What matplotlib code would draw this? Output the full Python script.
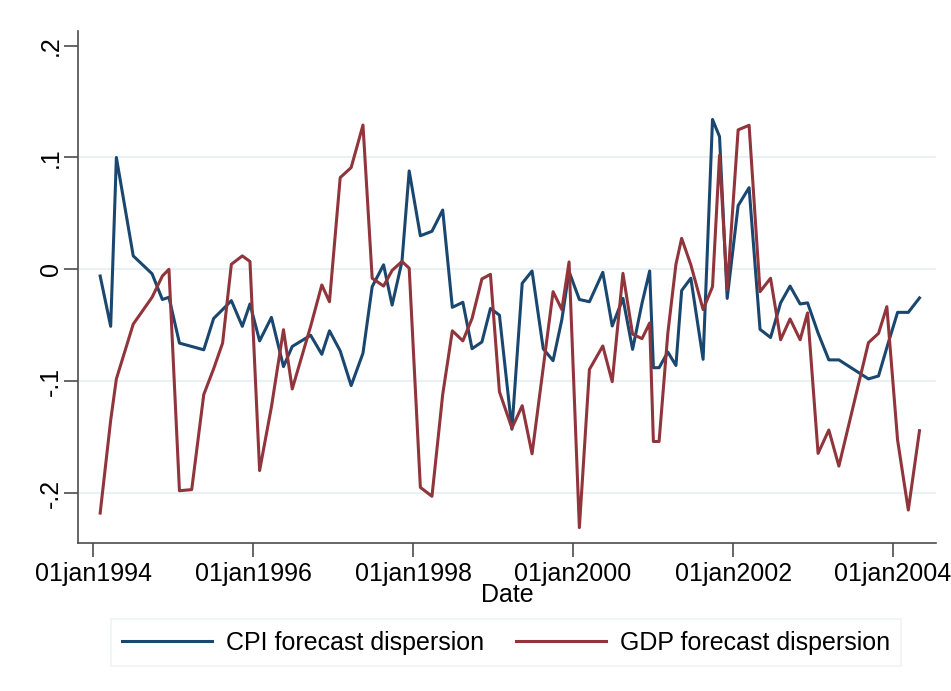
import matplotlib
matplotlib.use("Agg")
import matplotlib.pyplot as plt
import matplotlib.dates as mdates
import pandas as pd

# survey dates
dates = [
    "1994-02-02", "1994-03-22", "1994-04-17", "1994-07-03", "1994-09-27", "1994-11-13",
    "1994-12-13", "1995-01-30", "1995-03-27", "1995-05-21", "1995-07-05", "1995-08-15",
    "1995-09-24", "1995-11-13", "1995-12-18", "1996-01-31", "1996-03-25", "1996-05-19",
    "1996-06-28", "1996-09-20", "1996-11-10", "1996-12-15", "1997-02-02", "1997-03-24",
    "1997-05-17", "1997-06-28", "1997-08-19", "1997-09-27", "1997-11-11", "1997-12-14",
    "1998-02-03", "1998-03-28", "1998-05-16", "1998-06-29", "1998-08-16", "1998-09-27",
    "1998-11-11", "1998-12-20", "1999-01-30", "1999-03-28", "1999-05-14", "1999-06-28",
    "1999-08-18", "1999-10-02", "1999-11-11", "1999-12-14", "2000-01-30", "2000-03-16",
    "2000-05-16", "2000-06-28", "2000-08-16", "2000-09-29", "2000-11-11", "2000-12-16",
    "2001-01-02", "2001-01-28", "2001-03-09", "2001-04-15", "2001-05-11", "2001-06-22",
    "2001-08-17", "2001-09-29", "2001-10-31", "2001-12-05", "2002-01-24", "2002-03-15",
    "2002-05-04", "2002-06-21", "2002-08-06", "2002-09-18", "2002-11-03", "2002-12-07",
    "2003-01-24", "2003-03-14", "2003-04-29", "2003-09-11", "2003-10-27", "2003-12-04",
    "2004-01-22", "2004-03-11", "2004-05-01",
]

cpi = [
    -0.006, -0.051, 0.100, 0.012, -0.004, -0.027,
    -0.025, -0.066, -0.069, -0.072, -0.044, -0.036,
    -0.028, -0.051, -0.031, -0.064, -0.043, -0.087,
    -0.069, -0.059, -0.076, -0.055, -0.073, -0.104,
    -0.075, -0.0155, 0.004, -0.032, 0.007, 0.088,
    0.030, 0.034, 0.053, -0.034, -0.0295, -0.071,
    -0.065, -0.035, -0.041, -0.143, -0.0125, -0.0015,
    -0.071, -0.0817, -0.045, -0.002, -0.027, -0.029,
    -0.0027, -0.0507, -0.026, -0.0716, -0.0304, -0.0015,
    -0.088, -0.088, -0.074, -0.086, -0.019, -0.008,
    -0.0805, 0.134, 0.1187, -0.026, 0.057, 0.073,
    -0.0537, -0.061, -0.030, -0.015, -0.031, -0.030,
    -0.057, -0.081, -0.081, -0.098, -0.0954, -0.070,
    -0.0385, -0.0385, -0.0256,
]

gdp = [
    -0.218, -0.135, -0.098, -0.049, -0.025, -0.006,
    0.000, -0.198, -0.197, -0.112, -0.089, -0.066,
    0.0045, 0.012, 0.007, -0.180, -0.123, -0.054,
    -0.107, -0.051, -0.014, -0.029, 0.082, 0.091,
    0.129, -0.008, -0.015, -0.001, 0.007, 0.001,
    -0.195, -0.203, -0.112, -0.055, -0.064, -0.044,
    -0.0086, -0.0045, -0.1095, -0.142, -0.122, -0.165,
    -0.088, -0.020, -0.036, 0.0066, -0.231, -0.0895,
    -0.0686, -0.1005, -0.0036, -0.058, -0.062, -0.048,
    -0.154, -0.154, -0.057, 0.0045, 0.0277, 0.004,
    -0.036, -0.0155, 0.102, -0.018, 0.1247, 0.1288,
    -0.020, -0.008, -0.063, -0.0444, -0.063, -0.039,
    -0.1646, -0.1437, -0.176, -0.0656, -0.0573, -0.0334,
    -0.1527, -0.2153, -0.1443,
]

xticks = ["1994-01-01", "1996-01-01", "1998-01-01", "2000-01-01", "2002-01-01", "2004-01-01"]
yticks = [-0.2, -0.1, 0, 0.1, 0.2]
ytick_labels = ["-.2", "-.1", "0", ".1", ".2"]
grid_y = [-0.2, -0.1, 0, 0.1]

d = pd.to_datetime(dates)

plt.rcParams['font.family'] = ['Liberation Sans', 'DejaVu Sans']

fig = plt.figure(figsize=(9.51, 6.91), dpi=100)
ax = fig.add_axes([0.0823, 0.2146, 0.9016, 0.7410])

for g in grid_y:
    ax.axhline(g, color='#eaf0f3', lw=1.6, zorder=0)

l1, = ax.plot(d, cpi, color='#1a476f', lw=2.2, label='CPI forecast dispersion')
l2, = ax.plot(d, gdp, color='#90353b', lw=2.2, label='GDP forecast dispersion')

ax.set_xlim(pd.Timestamp("1993-10-25"), pd.Timestamp("2004-07-14"))
ax.set_ylim(-0.2445, 0.2134)

ax.set_xticks(pd.to_datetime(xticks))
ax.xaxis.set_major_formatter(plt.FuncFormatter(
    lambda v, p: mdates.num2date(v).strftime('%d%b%Y').lower()))
ax.set_yticks(yticks)
ax.set_yticklabels(ytick_labels, rotation=90, va='center')

for s in ['top', 'right']:
    ax.spines[s].set_visible(False)
for s in ['left', 'bottom']:
    ax.spines[s].set_color('#4d4d4d')
    ax.spines[s].set_linewidth(1.2)

ax.tick_params(axis='both', length=10, width=1.2, color='#4d4d4d', labelsize=18)
ax.tick_params(axis='x', pad=4)
ax.tick_params(axis='y', pad=1)

ax.set_xlabel('Date', fontsize=18, labelpad=-2)

leg = fig.legend(handles=[l1, l2], loc='center', bbox_to_anchor=(0.532, 0.070),
                 ncol=2, fontsize=18, frameon=True, fancybox=False,
                 handlelength=3.6, handletextpad=0.55, columnspacing=1.3,
                 borderpad=0.45)
leg.get_frame().set_edgecolor('#eaf0f3')
leg.get_frame().set_linewidth(1.2)

fig.savefig('out.png', dpi=100)
